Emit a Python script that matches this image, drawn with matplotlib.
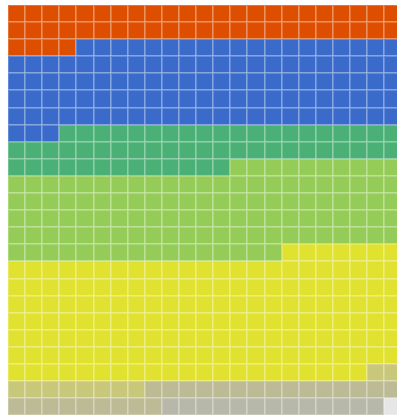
import numpy as np
import matplotlib
matplotlib.use("Agg")
import matplotlib.pyplot as plt
from matplotlib.colors import ListedColormap

# Waffle chart data (cells per category, filled row by row from top-left)
categories = ["Orange", "Blue", "Green", "Light green", "Yellow", "Khaki", "Olive grey", "Grey", "Empty"]
counts = [50, 114, 56, 118, 166, 10, 24, 13, 1]
colors = ["#DD4E00", "#3A6BCB", "#4BB075", "#95CC58", "#E1E22F", "#C9C87A", "#BDBB95", "#B8B8AA", "#E6E6E6"]

n_cols = 23
n_rows = 24

flat = np.repeat(np.arange(len(counts)), counts)
grid = flat.reshape(n_rows, n_cols)

W, H = 397, 415
fig = plt.figure(figsize=(W / 100, H / 100), dpi=100)
cell_w = 17.1
left = 8 / W
top_px = 5
ax = fig.add_axes([left, (H - top_px - n_rows * cell_w) / H, n_cols * cell_w / W, n_rows * cell_w / H])

cmap = ListedColormap(colors)
ax.pcolormesh(np.arange(n_cols + 1), np.arange(n_rows + 1), grid, cmap=cmap,
              vmin=-0.5, vmax=len(colors) - 0.5,
              edgecolors=(1, 1, 1, 0.22), linewidth=1.3)
ax.set_xlim(0, n_cols)
ax.set_ylim(n_rows, 0)
ax.axis("off")

fig.savefig("out.png", dpi=100)
